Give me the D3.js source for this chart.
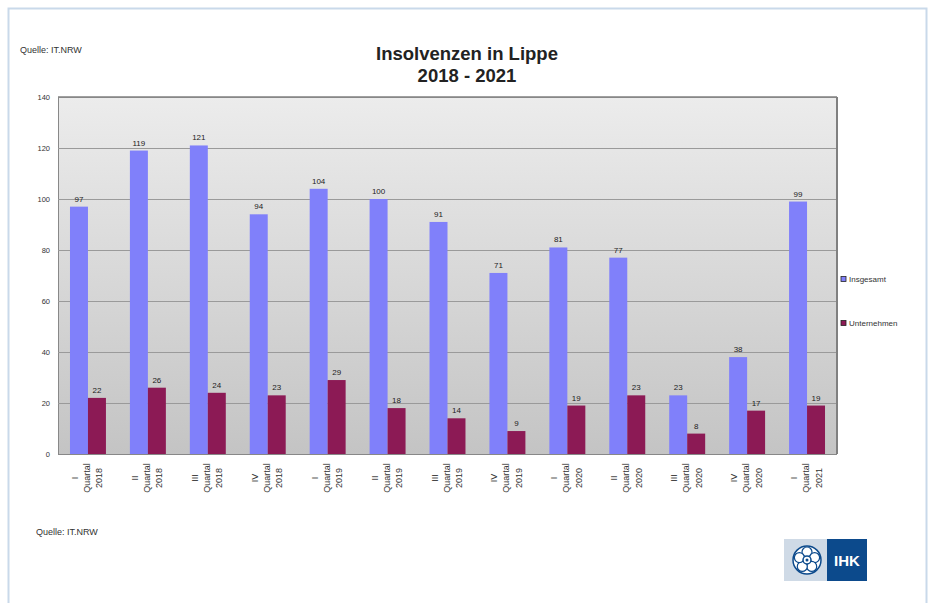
<!DOCTYPE html>
<html>
<head>
<meta charset="utf-8">
<script src="https://cdn.jsdelivr.net/npm/d3@7"></script>
<style>
  body { margin: 0; background: #fff; }
  text { font-family: "Liberation Sans", Arial, sans-serif; }
</style>
</head>
<body>
<div id="chart"></div>
<script>
// data
var quarters = ["I", "II", "III", "IV", "I", "II", "III", "IV", "I", "II", "III", "IV", "I"];
var years = ["2018", "2018", "2018", "2018", "2019", "2019", "2019", "2019", "2020", "2020", "2020", "2020", "2021"];
var insgesamt = [97, 119, 121, 94, 104, 100, 91, 71, 81, 77, 23, 38, 99];
var unternehmen = [22, 26, 24, 23, 29, 18, 14, 9, 19, 23, 8, 17, 19];
var seriesNames = ["Insgesamt", "Unternehmen"];
var yTicks = [0, 20, 40, 60, 80, 100, 120, 140];

var width = 930, height = 603;
var plot = {left: 58, right: 837, top: 97, bottom: 454};

var svg = d3.select("#chart").append("svg")
    .attr("width", width)
    .attr("height", height);

// outer frame
svg.append("rect")
    .attr("x", 8.5).attr("y", 8.5)
    .attr("width", 918).attr("height", 600)
    .attr("fill", "#fff")
    .attr("stroke", "#c9d9ea")
    .attr("stroke-width", 2);

var defs = svg.append("defs");
var grad = defs.append("linearGradient")
    .attr("id", "plotbg")
    .attr("x1", 0).attr("y1", 0).attr("x2", 0).attr("y2", 1);
grad.append("stop").attr("offset", "0%").attr("stop-color", "#ececec");
grad.append("stop").attr("offset", "100%").attr("stop-color", "#c4c4c4");

var idx = d3.range(quarters.length);

var x = d3.scaleBand()
    .domain(idx)
    .range([plot.left, plot.right])
    .paddingInner(0.4)
    .paddingOuter(0.2);

var y = d3.scaleLinear()
    .domain([0, 140])
    .range([plot.bottom, plot.top]);

var xs = d3.scaleBand()
    .domain(seriesNames)
    .range([0, x.bandwidth()]);

var colors = d3.scaleOrdinal()
    .domain(seriesNames)
    .range(["#8080fa", "#8c1a55"]);

// plot background
svg.append("rect")
    .attr("x", plot.left).attr("y", plot.top)
    .attr("width", plot.right - plot.left)
    .attr("height", plot.bottom - plot.top)
    .attr("fill", "url(#plotbg)");

// gridlines
var yAxis = svg.append("g")
    .attr("transform", "translate(" + plot.left + ",0)")
    .call(d3.axisLeft(y).tickValues(yTicks).tickSize(-(plot.right - plot.left)).tickPadding(8));
yAxis.select(".domain").attr("stroke", "#888");
yAxis.selectAll(".tick line").attr("stroke", "#9a9a9a");
yAxis.selectAll(".tick text")
    .attr("font-size", 7.5)
    .attr("fill", "#333");

// frame of plot area
svg.append("line")
    .attr("x1", plot.left).attr("x2", plot.right)
    .attr("y1", plot.top).attr("y2", plot.top)
    .attr("stroke", "#808080").attr("stroke-width", 1.5);
svg.append("line")
    .attr("x1", plot.right).attr("x2", plot.right)
    .attr("y1", plot.top).attr("y2", plot.bottom)
    .attr("stroke", "#808080").attr("stroke-width", 2);

var rows = idx.map(function(i) {
    return {i: i, values: [
        {name: "Insgesamt", v: insgesamt[i]},
        {name: "Unternehmen", v: unternehmen[i]}
    ]};
});

var groups = svg.append("g").selectAll("g")
    .data(rows)
    .enter().append("g")
    .attr("transform", function(d) { return "translate(" + x(d.i) + ",0)"; });

groups.selectAll("rect")
    .data(function(d) { return d.values; })
    .enter().append("rect")
    .attr("x", function(d) { return xs(d.name); })
    .attr("y", function(d) { return y(d.v); })
    .attr("width", xs.bandwidth())
    .attr("height", function(d) { return y(0) - y(d.v); })
    .attr("fill", function(d) { return colors(d.name); });

// value labels
groups.selectAll("text.val")
    .data(function(d) { return d.values; })
    .enter().append("text")
    .attr("class", "val")
    .attr("x", function(d) { return xs(d.name) + xs.bandwidth() / 2; })
    .attr("y", function(d) { return y(d.v) - 5; })
    .attr("text-anchor", "middle")
    .attr("font-size", 8)
    .attr("fill", "#222")
    .text(function(d) { return d.v; });

// x axis line
svg.append("line")
    .attr("x1", plot.left).attr("x2", plot.right)
    .attr("y1", plot.bottom + 0.5).attr("y2", plot.bottom + 0.5)
    .attr("stroke", "#888");

// rotated category labels
var xl = svg.append("g").selectAll("text")
    .data(idx)
    .enter().append("text")
    .attr("transform", function(i) {
        return "translate(" + (x(i) + x.bandwidth() / 2 - 10) + ",478) rotate(-90)";
    })
    .attr("text-anchor", "middle")
    .attr("font-size", 9)
    .attr("fill", "#333");
xl.append("tspan").attr("x", 0).attr("dy", 0).text(function(i) { return quarters[i]; });
xl.append("tspan").attr("x", 0).attr("dy", 12).text("Quartal");
xl.append("tspan").attr("x", 0).attr("dy", 12.5).text(function(i) { return years[i]; });

// title
svg.append("text")
    .attr("x", 467).attr("y", 60)
    .attr("text-anchor", "middle")
    .attr("font-size", 18.5).attr("font-weight", "bold")
    .attr("fill", "#222")
    .text("Insolvenzen in Lippe");
svg.append("text")
    .attr("x", 467).attr("y", 82)
    .attr("text-anchor", "middle")
    .attr("font-size", 18.5).attr("font-weight", "bold")
    .attr("fill", "#222")
    .text("2018 - 2021");

// sources
svg.append("text")
    .attr("x", 20).attr("y", 53)
    .attr("font-size", 9).attr("fill", "#333")
    .text("Quelle: IT.NRW");
svg.append("text")
    .attr("x", 36).attr("y", 535)
    .attr("font-size", 9).attr("fill", "#333")
    .text("Quelle: IT.NRW");

// legend
var legend = svg.append("g").selectAll("g")
    .data(seriesNames)
    .enter().append("g")
    .attr("transform", function(d, i) { return "translate(841," + (279 + i * 44) + ")"; });
legend.append("rect")
    .attr("x", 0).attr("y", -2.5)
    .attr("width", 5).attr("height", 5)
    .attr("fill", function(d) { return colors(d); })
    .attr("stroke", "#222").attr("stroke-width", 0.8);
legend.append("text")
    .attr("x", 8).attr("y", 3)
    .attr("font-size", 8).attr("fill", "#333")
    .text(function(d) { return d; });

// IHK logo
var logo = svg.append("g").attr("transform", "translate(784,539)");
logo.append("rect").attr("width", 43).attr("height", 42).attr("fill", "#cfdae6");
logo.append("rect").attr("x", 43).attr("width", 40).attr("height", 42).attr("fill", "#0c4a8c");
logo.append("text")
    .attr("x", 63).attr("y", 27)
    .attr("text-anchor", "middle")
    .attr("font-size", 15).attr("font-weight", "bold")
    .attr("fill", "#fff")
    .text("IHK");
var rose = logo.append("g").attr("transform", "translate(23,21)");
rose.append("circle").attr("r", 14).attr("fill", "#fff").attr("stroke", "#0c4a8c").attr("stroke-width", 1.5);
d3.range(5).forEach(function(k) {
    var a = (k * 72 - 90) * Math.PI / 180;
    rose.append("circle")
        .attr("cx", 8 * Math.cos(a)).attr("cy", 8 * Math.sin(a))
        .attr("r", 5)
        .attr("fill", "#fff").attr("stroke", "#0c4a8c").attr("stroke-width", 1.2);
});
rose.append("circle").attr("r", 4).attr("fill", "#fff").attr("stroke", "#0c4a8c").attr("stroke-width", 1.5);
rose.append("circle").attr("r", 1.5).attr("fill", "#0c4a8c");
</script>
</body>
</html>
